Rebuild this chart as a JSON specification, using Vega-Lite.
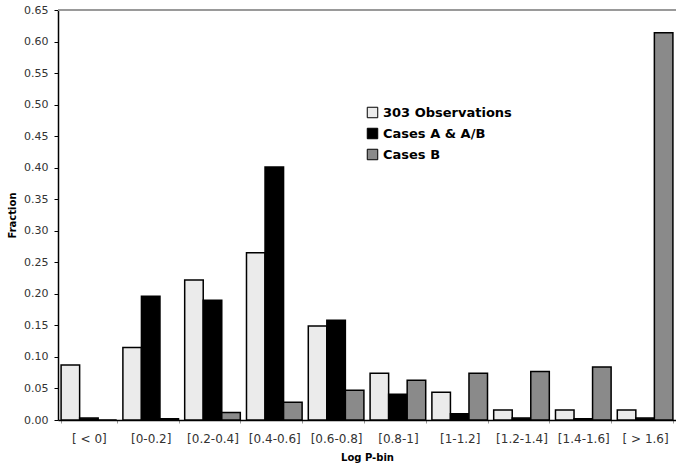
{
  "$schema": "https://vega.github.io/schema/vega-lite/v6.json",
  "autosize": {"type": "none"},
  "padding": {"left": 58, "top": 10, "right": 0, "bottom": 53},
  "width": 618,
  "height": 410,
  "background": "white",
  "config": {
    "view": {"stroke": null},
    "font": "DejaVu Sans"
  },
  "data": {
    "values": [
      {"bin": "[ < 0]", "series": "303 Observations", "value": 0.087},
      {"bin": "[ < 0]", "series": "Cases A & A/B", "value": 0.003},
      {"bin": "[ < 0]", "series": "Cases B", "value": 0.0},
      {"bin": "[0-0.2]", "series": "303 Observations", "value": 0.115},
      {"bin": "[0-0.2]", "series": "Cases A & A/B", "value": 0.196},
      {"bin": "[0-0.2]", "series": "Cases B", "value": 0.002},
      {"bin": "[0.2-0.4]", "series": "303 Observations", "value": 0.222},
      {"bin": "[0.2-0.4]", "series": "Cases A & A/B", "value": 0.19},
      {"bin": "[0.2-0.4]", "series": "Cases B", "value": 0.012},
      {"bin": "[0.4-0.6]", "series": "303 Observations", "value": 0.265},
      {"bin": "[0.4-0.6]", "series": "Cases A & A/B", "value": 0.401},
      {"bin": "[0.4-0.6]", "series": "Cases B", "value": 0.028},
      {"bin": "[0.6-0.8]", "series": "303 Observations", "value": 0.149},
      {"bin": "[0.6-0.8]", "series": "Cases A & A/B", "value": 0.158},
      {"bin": "[0.6-0.8]", "series": "Cases B", "value": 0.047},
      {"bin": "[0.8-1]", "series": "303 Observations", "value": 0.074},
      {"bin": "[0.8-1]", "series": "Cases A & A/B", "value": 0.041},
      {"bin": "[0.8-1]", "series": "Cases B", "value": 0.063},
      {"bin": "[1-1.2]", "series": "303 Observations", "value": 0.044},
      {"bin": "[1-1.2]", "series": "Cases A & A/B", "value": 0.01},
      {"bin": "[1-1.2]", "series": "Cases B", "value": 0.074},
      {"bin": "[1.2-1.4]", "series": "303 Observations", "value": 0.016},
      {"bin": "[1.2-1.4]", "series": "Cases A & A/B", "value": 0.003},
      {"bin": "[1.2-1.4]", "series": "Cases B", "value": 0.077},
      {"bin": "[1.4-1.6]", "series": "303 Observations", "value": 0.016},
      {"bin": "[1.4-1.6]", "series": "Cases A & A/B", "value": 0.002},
      {"bin": "[1.4-1.6]", "series": "Cases B", "value": 0.084},
      {"bin": "[ > 1.6]", "series": "303 Observations", "value": 0.016},
      {"bin": "[ > 1.6]", "series": "Cases A & A/B", "value": 0.003},
      {"bin": "[ > 1.6]", "series": "Cases B", "value": 0.614}
    ]
  },
  "encoding": {
    "y": {
      "field": "value",
      "type": "quantitative",
      "scale": {"domain": [0, 0.65], "nice": false},
      "axis": {
        "title": "Fraction",
        "titleFontSize": 10,
        "titleFontWeight": "bold",
        "titleColor": "black",
        "titlePadding": 6,
        "values": [0, 0.05, 0.1, 0.15, 0.2, 0.25, 0.3, 0.35, 0.4, 0.45, 0.5, 0.55, 0.6, 0.65],
        "format": ".2f",
        "labelOverlap": false,
        "labelFlush": false,
        "labelFontSize": 11,
        "labelColor": "#333333",
        "labelPadding": 6,
        "grid": false,
        "domainColor": "black",
        "domainWidth": 1.5,
        "tickSize": 4,
        "tickColor": "black"
      }
    }
  },
  "layer": [
    {
      "mark": {"type": "bar", "stroke": "black", "strokeWidth": 1.5},
      "encoding": {
        "x": {
          "field": "bin",
          "type": "nominal",
          "sort": null,
          "scale": {"paddingInner": 0.1, "paddingOuter": 0.05},
          "axis": {
            "title": "Log P-bin",
            "titleFontSize": 10,
            "titleFontWeight": "bold",
            "titleColor": "black",
            "titlePadding": 8,
            "labelAngle": 0,
            "labelFontSize": 12,
            "labelColor": "#333333",
            "labelPadding": 10,
            "domainColor": "black",
            "domainWidth": 1.5,
            "tickBand": "extent",
            "tickSize": 3,
            "tickColor": "#999999"
          }
        },
        "xOffset": {
          "field": "series",
          "type": "nominal",
          "sort": ["303 Observations", "Cases A & A/B", "Cases B"],
          "scale": {"paddingInner": 0, "paddingOuter": 0}
        },
        "fill": {
          "field": "series",
          "type": "nominal",
          "scale": {
            "domain": ["303 Observations", "Cases A & A/B", "Cases B"],
            "range": ["#ebebeb", "#000000", "#8a8a8a"]
          },
          "legend": {
            "title": null,
            "orient": "none",
            "legendX": 308,
            "legendY": 96,
            "symbolType": "square",
            "symbolSize": 110,
            "symbolStrokeColor": "black",
            "symbolStrokeWidth": 1,
            "labelFontSize": 13,
            "labelFontWeight": "bold",
            "labelColor": "black",
            "rowPadding": 6
          }
        }
      }
    },
    {
      "mark": {"type": "rule", "color": "#999999", "strokeWidth": 1},
      "encoding": {"y": {"datum": 0.65, "type": "quantitative"}}
    }
  ]
}
